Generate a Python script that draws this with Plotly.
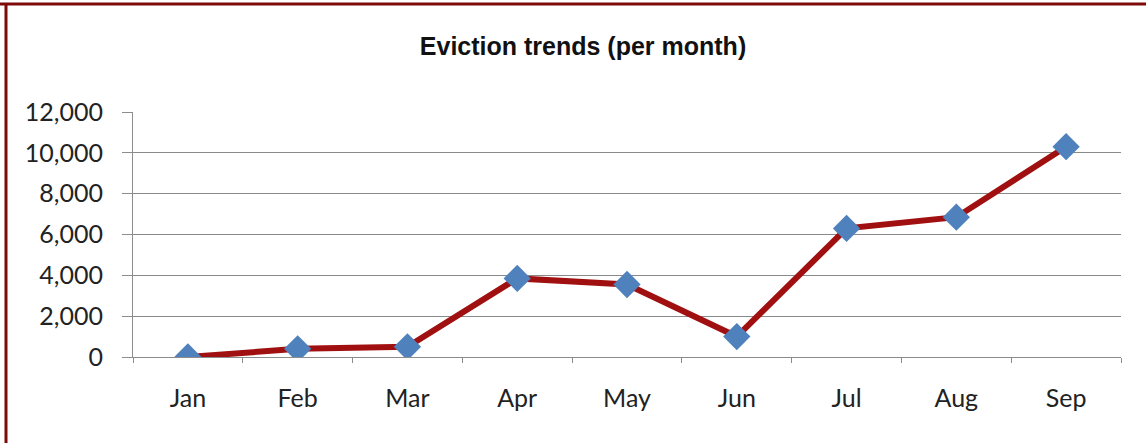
import plotly.graph_objects as go

months = ["Jan", "Feb", "Mar", "Apr", "May", "Jun", "Jul", "Aug", "Sep"]
evictions = [0, 400, 500, 3850, 3550, 1000, 6300, 6850, 10300]
y_ticks = [0, 2000, 4000, 6000, 8000, 10000, 12000]
y_tick_labels = ["0", "2,000", "4,000", "6,000", "8,000", "10,000", "12,000"]

fig = go.Figure()
fig.add_trace(go.Scatter(
    x=months, y=evictions, mode="lines+markers",
    line=dict(color="#A01010", width=6),
    marker=dict(symbol="diamond", size=21, color="#4F81BD"),
    showlegend=False,
))

fig.update_layout(
    width=1146, height=443,
    margin=dict(l=133, r=25, t=112, b=86),
    paper_bgcolor="white", plot_bgcolor="white",
    title=dict(text="<b>Eviction trends (per month)</b>",
               font=dict(family="Liberation Sans, Arial", size=25, color="#111"),
               x=583/1146, xref="container", xanchor="center",
               y=1 - 46/443, yref="container", yanchor="middle"),
    font=dict(family="Lato, Open Sans", size=25, color="#222"),
    xaxis=dict(type="category", showgrid=False, showline=True, linecolor="#8c8c8c", linewidth=1,
               ticks="outside", tickson="boundaries", ticklen=5, tickcolor="#8c8c8c",
               ticklabelstandoff=19, range=[-0.5, 8.5]),
    yaxis=dict(range=[0, 12000], tickvals=y_ticks, ticktext=y_tick_labels,
               showgrid=True, gridcolor="#8a8a8a", gridwidth=1.2,
               showline=True, linecolor="#8c8c8c", linewidth=1,
               ticks="outside", ticklen=10, tickcolor="#8c8c8c",
               ticklabelstandoff=14, zeroline=False),
    shapes=[
        dict(type="line", xref="paper", yref="paper",
             x0=-133/988, x1=1.03, y0=1 + 108/245, y1=1 + 108/245,
             line=dict(color="#7F0A0A", width=3)),
        dict(type="line", xref="paper", yref="paper",
             x0=-127/988, x1=-127/988, y0=-0.36, y1=1 + 108/245,
             line=dict(color="#7F0A0A", width=3)),
    ],
)

fig.write_html("out.html", config={"displayModeBar": False},
               post_script="document.body.style.margin='0';")
